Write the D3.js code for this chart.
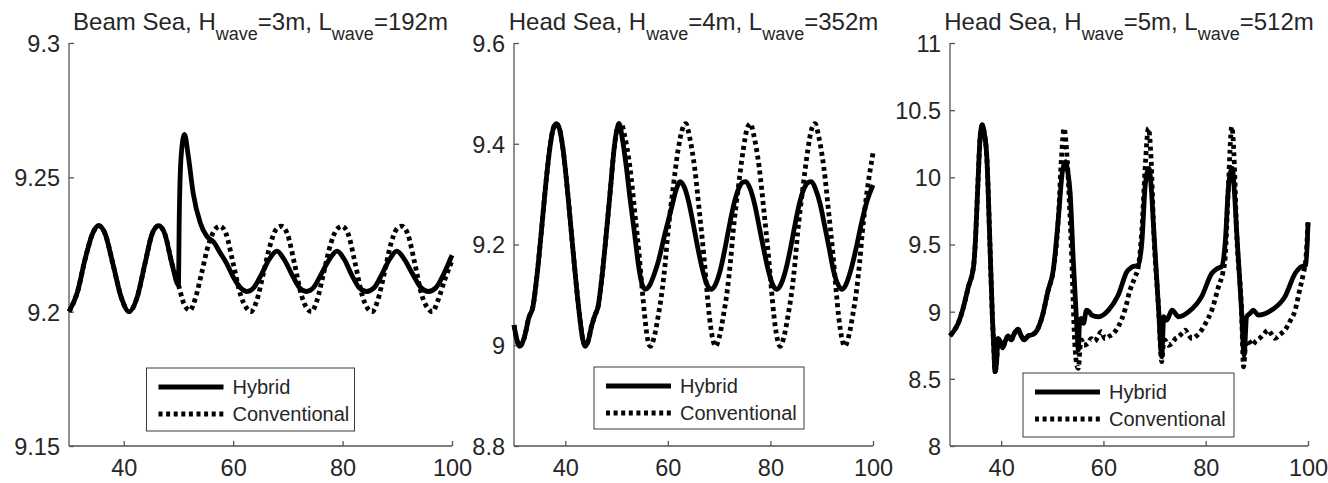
<!DOCTYPE html>
<html>
<head>
<meta charset="utf-8">
<script src="https://cdn.jsdelivr.net/npm/d3@7/dist/d3.min.js"></script>
<style>
  html, body { margin: 0; padding: 0; background: #fff; }
  svg { display: block; }
  text { font-family: "Liberation Sans", Arial, Helvetica, sans-serif; }
</style>
</head>
<body>
<svg id="chart" width="1328" height="483"></svg>
<script>
// ---- data: time (s) vs. value, three sea states ----
const xTicks = [40, 60, 80, 100];

const beamYTicks = [9.15, 9.2, 9.25, 9.3];
const head4YTicks = [8.8, 9, 9.2, 9.4, 9.6];
const head5YTicks = [8, 8.5, 9, 9.5, 10, 10.5, 11];

const beamTitle = ["Beam Sea, H", "wave", "=3m, L", "wave", "=192m"];
const head4Title = ["Head Sea, H", "wave", "=4m, L", "wave", "=352m"];
const head5Title = ["Head Sea, H", "wave", "=5m, L", "wave", "=512m"];

const seriesNames = ["Hybrid", "Conventional"];

// Beam sea, 3 m / 192 m
const beamCommon = [
  [30, 9.200], [31.5, 9.207], [33, 9.220], [34.3, 9.229], [35.4, 9.232], [36.6, 9.229],
  [38, 9.218], [39.6, 9.205], [41, 9.200], [42.4, 9.205], [43.9, 9.218], [45.2, 9.229],
  [46.4, 9.232], [47.5, 9.229], [48.8, 9.218], [50.0, 9.210]
];
const beamHybrid = [
  [50.15, 9.235], [50.5, 9.258], [51.1, 9.266], [51.8, 9.258], [52.7, 9.244], [54.0, 9.233],
  [55.2, 9.228], [56.4, 9.226], [57.6, 9.222], [58.8, 9.218], [60.0, 9.213], [61.3, 9.209],
  [62.6, 9.2075], [63.8, 9.209], [65.2, 9.214], [66.6, 9.2195], [68.0, 9.2225], [69.3, 9.2195],
  [70.7, 9.214], [72.1, 9.209], [73.4, 9.2075], [74.7, 9.209], [76.1, 9.214], [77.6, 9.2195],
  [79.0, 9.2225], [80.3, 9.2195], [81.6, 9.214], [83.0, 9.209], [84.4, 9.2075], [85.8, 9.209],
  [87.2, 9.214], [88.6, 9.2195], [89.9, 9.2225], [91.3, 9.2195], [92.8, 9.214], [94.3, 9.209],
  [95.7, 9.2075], [97.1, 9.209], [98.6, 9.2145], [100, 9.221]
];
const beamConventional = [
  [51.0, 9.203], [52.1, 9.2005], [53.1, 9.205], [54.2, 9.214], [55.5, 9.225], [56.5, 9.230],
  [57.6, 9.2318], [58.7, 9.229], [60.0, 9.218], [61.4, 9.206], [62.4, 9.2015], [63.2, 9.200],
  [64.3, 9.204], [65.5, 9.214], [66.8, 9.225], [67.8, 9.2305], [68.8, 9.2318], [69.9, 9.229],
  [71.2, 9.218], [72.5, 9.206], [73.4, 9.2015], [74.3, 9.200], [75.3, 9.204], [76.5, 9.214],
  [77.8, 9.225], [78.9, 9.2305], [79.9, 9.2318], [81.0, 9.229], [82.3, 9.218], [83.6, 9.206],
  [84.5, 9.2015], [85.4, 9.200], [86.4, 9.204], [87.6, 9.214], [88.8, 9.225], [89.8, 9.2305],
  [90.8, 9.2318], [91.9, 9.229], [93.2, 9.218], [94.5, 9.206], [95.5, 9.2015], [96.4, 9.200],
  [97.4, 9.204], [98.7, 9.212], [100, 9.219]
];

// Head sea, 4 m / 352 m
const head4Common = [
  [30, 9.040], [31.1, 8.998], [32.0, 9.015], [32.9, 9.055], [33.7, 9.077], [34.5, 9.140],
  [35.3, 9.222], [36.2, 9.320], [37.0, 9.392], [37.6, 9.428], [38.25, 9.440], [38.9, 9.428],
  [39.55, 9.390], [40.4, 9.310], [41.2, 9.222], [42.0, 9.135], [42.8, 9.057], [43.4, 9.012],
  [43.9, 8.998], [44.5, 9.010], [45.1, 9.037], [45.8, 9.060], [46.4, 9.077], [47.2, 9.140],
  [48.0, 9.222], [48.8, 9.310], [49.5, 9.388], [50.0, 9.425], [50.5, 9.440]
];
const head4Hybrid = [
  [51.2, 9.405], [51.9, 9.354], [52.7, 9.285], [53.5, 9.222], [54.4, 9.150], [55.0, 9.120],
  [55.6, 9.111], [56.4, 9.118], [57.3, 9.140], [58.1, 9.165], [59.4, 9.220], [60.7, 9.272],
  [61.6, 9.308], [62.4, 9.325], [63.2, 9.314], [64.1, 9.283], [65.0, 9.238], [65.9, 9.190],
  [66.8, 9.148], [67.6, 9.121], [68.4, 9.111], [69.2, 9.119], [70.2, 9.148], [71.1, 9.190],
  [72.0, 9.238], [72.9, 9.281], [73.8, 9.311], [74.5, 9.323], [75.2, 9.325], [76.0, 9.312],
  [76.9, 9.281], [77.8, 9.236], [78.7, 9.190], [79.6, 9.148], [80.4, 9.121], [81.2, 9.111],
  [82.0, 9.120], [83.0, 9.150], [83.9, 9.192], [84.8, 9.240], [85.7, 9.283], [86.6, 9.312],
  [87.3, 9.323], [88.0, 9.325], [88.8, 9.310], [89.7, 9.280], [90.6, 9.236], [91.5, 9.190],
  [92.3, 9.148], [93.2, 9.120], [93.9, 9.111], [94.7, 9.120], [95.7, 9.150], [96.7, 9.192],
  [97.7, 9.240], [98.8, 9.285], [100, 9.318]
];
const head4Conventional = [
  [50.9, 9.440], [51.6, 9.415], [52.6, 9.354], [53.6, 9.260], [54.4, 9.180], [55.0, 9.110],
  [55.5, 9.057], [56.0, 9.015], [56.6, 8.998], [57.3, 9.015], [58.1, 9.057], [58.9, 9.110],
  [59.5, 9.165], [60.0, 9.222], [61.0, 9.310], [62.0, 9.388], [62.8, 9.428], [63.5, 9.440],
  [64.2, 9.415], [65.2, 9.354], [66.2, 9.260], [67.0, 9.180], [67.6, 9.110], [68.1, 9.057],
  [68.7, 9.015], [69.3, 8.998], [70.0, 9.015], [70.8, 9.057], [71.6, 9.110], [72.2, 9.165],
  [72.7, 9.222], [73.7, 9.310], [74.7, 9.388], [75.4, 9.428], [76.1, 9.440], [76.8, 9.415],
  [77.8, 9.354], [78.8, 9.260], [79.6, 9.180], [80.2, 9.110], [80.7, 9.057], [81.3, 9.015],
  [81.9, 8.998], [82.6, 9.015], [83.4, 9.057], [84.2, 9.110], [84.8, 9.165], [85.3, 9.222],
  [86.3, 9.310], [87.3, 9.388], [88.0, 9.428], [88.7, 9.440], [89.4, 9.415], [90.4, 9.354],
  [91.4, 9.260], [92.2, 9.180], [92.8, 9.110], [93.3, 9.057], [93.9, 9.015], [94.5, 8.998],
  [95.2, 9.015], [96.0, 9.057], [96.8, 9.110], [97.4, 9.165], [97.9, 9.222], [98.9, 9.310],
  [100, 9.381]
];

// Head sea, 5 m / 512 m
const head5Common = [
  [30, 8.82], [31.0, 8.87], [31.6, 8.913], [32.6, 9.03], [33.6, 9.186], [34.6, 9.335],
  [35.0, 9.55], [35.4, 9.90], [35.9, 10.30], [36.3, 10.39], [36.7, 10.33], [37.2, 10.15],
  [37.8, 9.51], [38.3, 8.95], [38.6, 8.70], [38.8, 8.553], [39.1, 8.62], [39.4, 8.80],
  [39.8, 8.78], [40.3, 8.73], [40.8, 8.78], [41.4, 8.82], [42.0, 8.79], [42.6, 8.84],
  [43.3, 8.87], [43.8, 8.83], [44.5, 8.79], [45.3, 8.82], [46.2, 8.83], [47.0, 8.86],
  [48.0, 8.96], [49.2, 9.16], [50.2, 9.31], [51.2, 9.70]
];
const head5Hybrid = [
  [52.0, 10.05], [52.6, 10.116], [53.0, 10.05], [53.5, 9.881], [54.1, 9.385], [54.8, 8.888],
  [55.1, 8.715], [55.3, 8.90], [55.6, 8.95], [56.1, 8.913], [56.7, 9.012], [57.2, 9.00],
  [57.7, 8.975], [59.0, 8.962], [61.0, 9.012], [62.9, 9.124], [64.6, 9.298], [65.5, 9.33],
  [66.8, 9.347], [67.5, 9.509], [68.2, 9.95], [68.9, 10.067], [69.4, 9.90], [69.8, 9.632],
  [70.8, 9.012], [71.4, 8.665], [71.8, 8.962], [72.4, 8.938], [73.4, 9.012], [74.7, 8.962],
  [76.7, 9.0], [79.2, 9.112], [81.2, 9.286], [82.2, 9.32], [83.1, 9.335], [83.8, 9.509],
  [84.5, 9.95], [85.2, 10.067], [85.6, 9.90], [86.0, 9.632], [87.0, 9.012], [87.5, 8.677],
  [88.0, 8.962], [88.7, 8.988], [89.3, 9.012], [90.3, 8.975], [92.9, 9.012], [95.5, 9.112],
  [97.5, 9.286], [98.5, 9.33], [99.6, 9.347], [100, 9.658]
];
const head5Conventional = [
  [51.8, 10.15], [52.3, 10.365], [52.8, 10.20], [53.3, 9.85], [53.8, 9.40], [54.4, 8.765],
  [54.8, 8.60], [55.1, 8.578], [55.4, 8.72], [55.7, 8.789], [56.2, 8.75], [57.0, 8.765],
  [57.6, 8.80], [58.3, 8.78], [59.0, 8.82], [59.6, 8.851], [60.3, 8.80], [61.0, 8.814],
  [62.0, 8.84], [62.9, 8.888], [64.2, 9.012], [65.2, 9.161], [66.2, 9.26], [66.8, 9.33],
  [67.5, 9.60], [68.2, 10.10], [68.8, 10.365], [69.3, 10.15], [69.8, 9.632], [70.8, 9.012],
  [71.4, 8.628], [71.7, 8.75], [72.0, 8.789], [72.7, 8.75], [73.4, 8.765], [74.1, 8.80],
  [74.7, 8.814], [75.4, 8.84], [76.0, 8.863], [76.6, 8.83], [77.3, 8.801], [78.2, 8.82],
  [79.2, 8.863], [80.2, 8.93], [81.2, 9.012], [82.5, 9.186], [83.4, 9.30], [83.8, 9.40],
  [84.4, 9.90], [85.1, 10.377], [85.6, 10.10], [86.0, 9.632], [87.0, 9.012], [87.4, 8.59],
  [87.8, 8.75], [88.3, 8.789], [89.0, 8.75], [89.8, 8.78], [90.5, 8.80], [91.3, 8.83],
  [92.2, 8.863], [92.9, 8.83], [93.5, 8.801], [94.5, 8.83], [95.5, 8.863], [96.5, 8.93],
  [97.5, 9.012], [98.3, 9.15], [99.1, 9.286], [99.6, 9.40], [100, 9.67]
];

// ---- layout ----
const panels = [
  { title: beamTitle, yDomain: [9.15, 9.3], yTicks: beamYTicks,
    hybrid: beamCommon.concat(beamHybrid), conventional: beamCommon.concat(beamConventional),
    left: 69, right: 452, legend: { x: 146.5, y: 368, w: 208, h: 63 } },
  { title: head4Title, yDomain: [8.8, 9.6], yTicks: head4YTicks,
    hybrid: head4Common.concat(head4Hybrid), conventional: head4Common.concat(head4Conventional),
    left: 514, right: 873, legend: { x: 594, y: 367, w: 210, h: 62 } },
  { title: head5Title, yDomain: [8, 11], yTicks: head5YTicks,
    hybrid: head5Common.concat(head5Hybrid), conventional: head5Common.concat(head5Conventional),
    left: 950, right: 1308, legend: { x: 1023, y: 373, w: 211, h: 64 } }
];
const plotTop = 43, plotBottom = 446;
const axisColor = "#555";
const textColor = "#262626";
const lineWidth = 4.8;
const dotPattern = "4,3.6";

const svg = d3.select("#chart");

panels.forEach((p, i) => {
  const x = d3.scaleLinear().domain([30, 100]).range([p.left, p.right]);
  const y = d3.scaleLinear().domain(p.yDomain).range([plotBottom, plotTop]);
  const g = svg.append("g");

  // clip curves to the axes box
  const clipId = "clip" + i;
  svg.append("clipPath").attr("id", clipId)
    .append("rect")
    .attr("x", p.left - 3).attr("y", plotTop - 3)
    .attr("width", p.right - p.left + 6).attr("height", plotBottom - plotTop + 6);

  // x axis (ticks inward)
  const xAxis = g.append("g").attr("transform", `translate(0,${plotBottom})`)
    .call(d3.axisBottom(x).tickValues(xTicks).tickSizeInner(-5).tickSizeOuter(0)
      .tickFormat(d3.format("d")));
  // y axis (ticks inward)
  const yAxis = g.append("g").attr("transform", `translate(${p.left},0)`)
    .call(d3.axisLeft(y).tickValues(p.yTicks).tickSizeInner(-5).tickSizeOuter(0)
      .tickFormat(d3.format("~g")));

  [xAxis, yAxis].forEach(ax => {
    ax.select(".domain").attr("stroke", axisColor).attr("stroke-width", 1.3);
    ax.selectAll(".tick line").attr("stroke", axisColor).attr("stroke-width", 1.3);
    ax.selectAll(".tick text").attr("fill", textColor)
      .style("font-family", '"Liberation Sans", Arial, sans-serif')
      .style("font-size", "23.5px");
  });
  xAxis.selectAll(".tick text").attr("y", 13).attr("dy", "0.71em");
  yAxis.selectAll(".tick text").attr("x", -9).attr("dy", "0.36em");
  xAxis.select(".domain").attr("d", `M${p.left},0H${p.right}`);
  yAxis.select(".domain").attr("d", `M0,${plotTop}V${plotBottom}`);

  // curves
  const line = d3.line().x(d => x(d[0])).y(d => y(d[1])).curve(d3.curveMonotoneX);
  const plot = g.append("g").attr("clip-path", `url(#${clipId})`);
  plot.append("path").datum(p.hybrid)
    .attr("d", line).attr("fill", "none").attr("stroke", "#000")
    .attr("stroke-width", lineWidth).attr("stroke-linejoin", "round");
  plot.append("path").datum(p.conventional)
    .attr("d", line).attr("fill", "none").attr("stroke", "#000")
    .attr("stroke-width", lineWidth).attr("stroke-dasharray", dotPattern);

  // title with subscripts
  const t = g.append("text")
    .attr("x", (p.left + p.right) / 2).attr("y", 29.5)
    .attr("text-anchor", "middle").attr("fill", textColor)
    .style("font-size", "24px");
  p.title.forEach((part, k) => {
    const isSub = k % 2 === 1;
    t.append("tspan")
      .attr("dy", isSub ? 10 : (k === 0 ? 0 : -10))
      .style("font-size", isSub ? "18px" : "24px")
      .text(part);
  });

  // legend
  const L = p.legend;
  const lg = g.append("g").attr("transform", `translate(${L.x},${L.y})`);
  lg.append("rect").attr("width", L.w).attr("height", L.h)
    .attr("fill", "#fff").attr("stroke", "#3a3a3a").attr("stroke-width", 1);
  seriesNames.forEach((name, k) => {
    const yy = 19 + k * 27;
    lg.append("line").attr("x1", 12).attr("x2", 77).attr("y1", yy).attr("y2", yy)
      .attr("stroke", "#000").attr("stroke-width", lineWidth)
      .attr("stroke-dasharray", k === 1 ? dotPattern : null);
    lg.append("text").attr("x", 86).attr("y", yy + 6.5)
      .attr("fill", textColor).style("font-size", "20px").text(name);
  });
});
</script>
</body>
</html>
